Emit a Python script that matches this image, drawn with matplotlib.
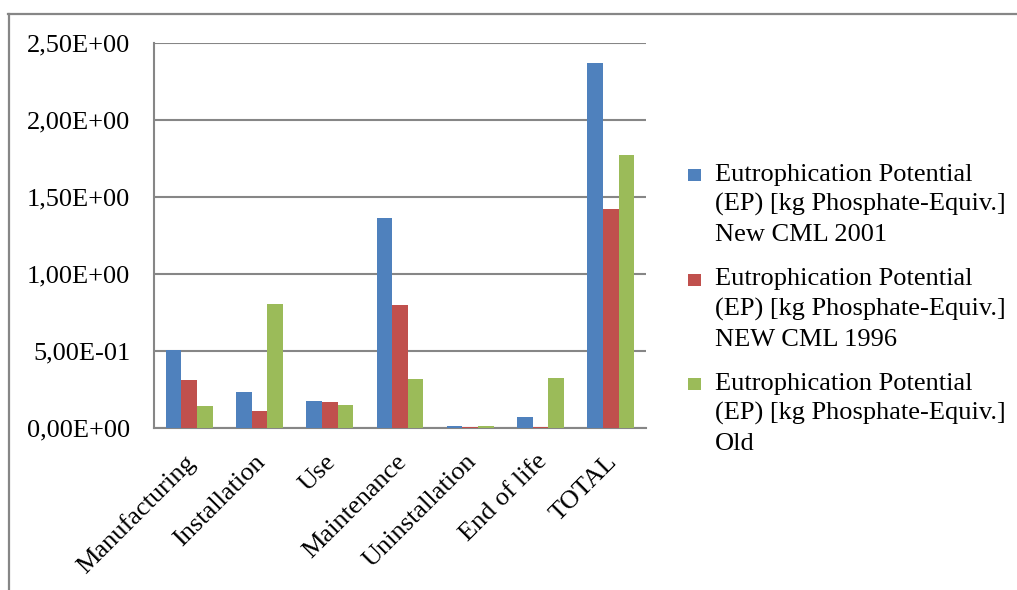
import matplotlib
matplotlib.use("Agg")
import matplotlib.pyplot as plt
import matplotlib.transforms as mtransforms
from matplotlib.lines import Line2D
from matplotlib.patches import Rectangle
import numpy as np

categories = ["Manufacturing", "Installation", "Use", "Maintenance",
              "Uninstallation", "End of life", "TOTAL"]
ep_cml2001 = [0.504, 0.234, 0.175, 1.364, 0.011, 0.071, 2.372]
ep_cml1996 = [0.310, 0.110, 0.171, 0.800, 0.008, 0.006, 1.422]
ep_old = [0.143, 0.805, 0.147, 0.320, 0.013, 0.325, 1.773]
series_labels = [
    ["Eutrophication Potential", "(EP) [kg Phosphate-Equiv.]", "New CML 2001"],
    ["Eutrophication Potential", "(EP) [kg Phosphate-Equiv.]", "NEW CML 1996"],
    ["Eutrophication Potential", "(EP) [kg Phosphate-Equiv.]", "Old"],
]
y_ticks = [0.0, 0.5, 1.0, 1.5, 2.0, 2.5]
y_tick_labels = ["0,00E+00", "5,00E-01", "1,00E+00", "1,50E+00", "2,00E+00", "2,50E+00"]

colors = ["#4F81BD", "#C0504D", "#9BBB59"]
grid_c = "#868686"

plt.rcParams["font.family"] = ["Liberation Serif", "DejaVu Serif"]
FS = 19

W, H = 1017, 590
fig = plt.figure(figsize=(W / 100, H / 100), dpi=100)


def fx(px):
    return px / W


def fy(py):
    return 1 - py / H


# outer chart frame (top and left edges)
fig.add_artist(Line2D([fx(8), fx(1016)], [fy(13.5), fy(13.5)],
                      transform=fig.transFigure, color=grid_c, lw=1.6))
fig.add_artist(Line2D([fx(8.5), fx(8.5)], [0, fy(13.5)],
                      transform=fig.transFigure, color=grid_c, lw=1.6))

left, right, bottom, top = 154, 646, 428, 43
ax = fig.add_axes([fx(left), fy(bottom), (right - left) / W, (bottom - top) / H])

x = np.arange(len(categories))
bw = 1 / 4.5
for i, (vals, col) in enumerate(zip([ep_cml2001, ep_cml1996, ep_old], colors)):
    ax.bar(x + (i - 1) * bw, vals, width=bw, color=col, zorder=3)

ax.set_xlim(-0.5, len(categories) - 0.5)
ax.set_ylim(0, 2.5)
ax.set_yticks(y_ticks)
ax.set_yticklabels(y_tick_labels, fontsize=FS)
ax.yaxis.grid(True, color=grid_c, lw=1.5, zorder=1)
ax.set_axisbelow(True)
ax.tick_params(axis="y", length=0, pad=17)
ax.tick_params(axis="x", length=0, pad=4)
ax.set_xticks(x)
ax.set_xticklabels(categories, fontsize=FS, rotation=45, ha="right",
                   va="top", rotation_mode="anchor")
shift = mtransforms.ScaledTranslation(-5 / 100, -17 / 100, fig.dpi_scale_trans)
for lab in ax.get_xticklabels():
    lab.set_transform(lab.get_transform() + shift)
for s in ["top", "right"]:
    ax.spines[s].set_visible(False)
for s in ["left", "bottom"]:
    ax.spines[s].set_color(grid_c)
    ax.spines[s].set_linewidth(1.5)

# legend: colour key squares with three-line labels
first_baseline = 181
entry_step = 104.5
line_step = 30
for k, (lines, col) in enumerate(zip(series_labels, colors)):
    base = first_baseline + k * entry_step
    fig.add_artist(Rectangle((fx(688), fy(base)), 13 / W, 12 / H,
                             transform=fig.transFigure, color=col, lw=0))
    for j, line in enumerate(lines):
        fig.text(fx(715), fy(base + j * line_step), line, fontsize=FS,
                 ha="left", va="baseline")

fig.savefig("out.png", dpi=100)
